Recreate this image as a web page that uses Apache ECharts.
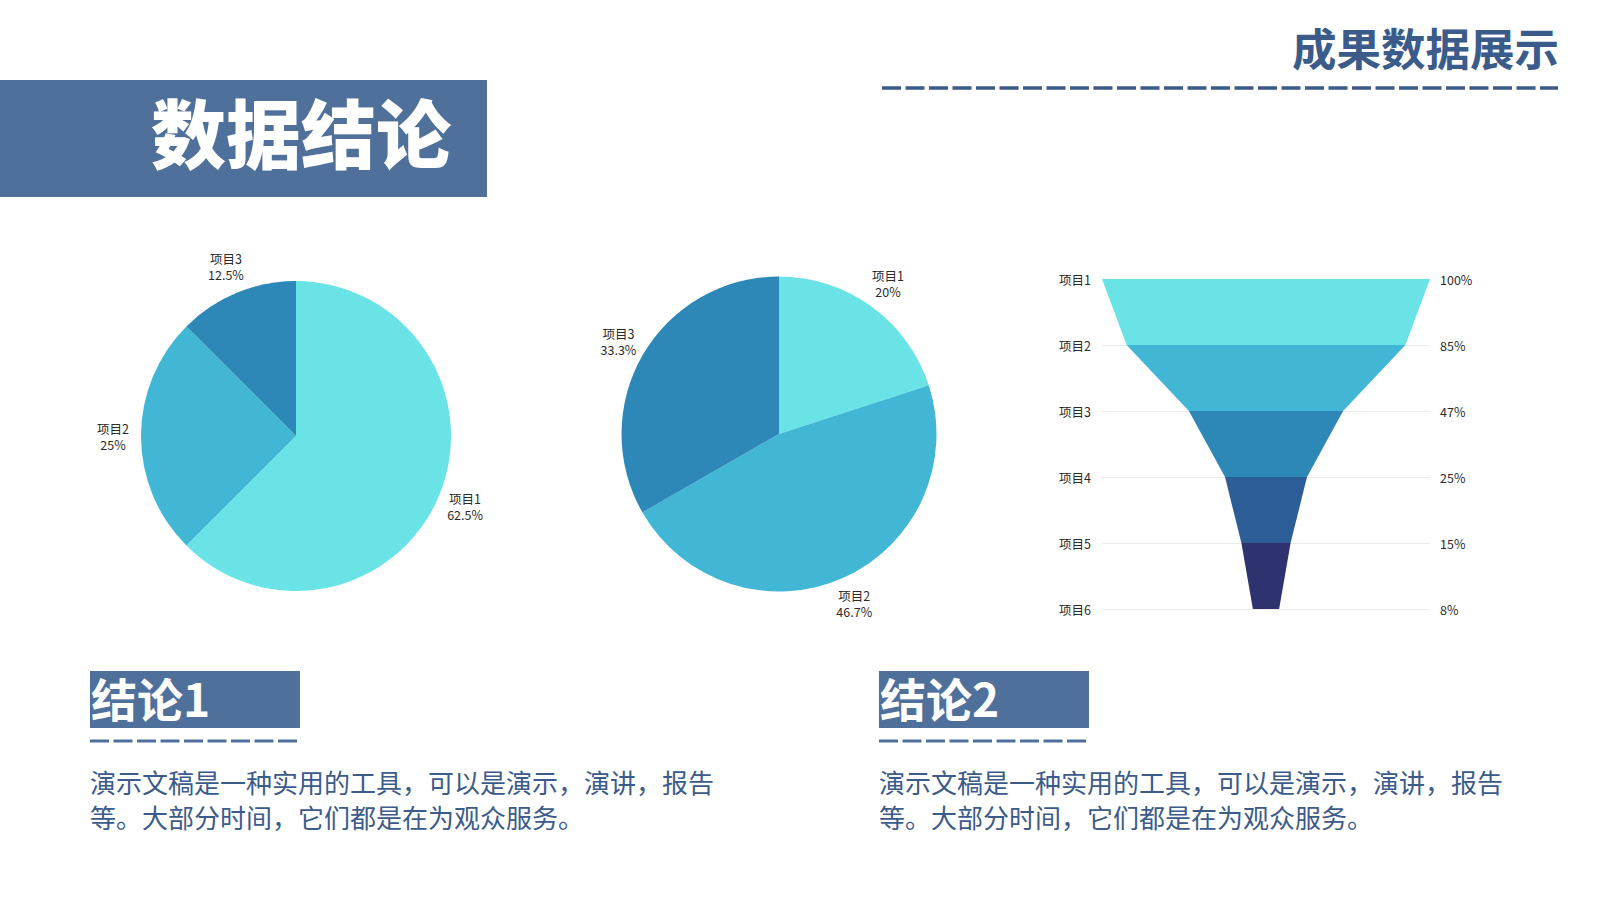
<!DOCTYPE html>
<html>
<head>
<meta charset="utf-8">
<script src="https://cdn.jsdelivr.net/npm/echarts@6/dist/echarts.min.js"></script>
<style>
  html, body { margin: 0; padding: 0; background: #fff; }
  #main { width: 1600px; height: 900px; }
</style>
</head>
<body>
<div id="main"></div>
<script>
// data
var pieNames = ['项目1', '项目2', '项目3'];
var pieValuesA = [62.5, 25, 12.5];
var pieValuesB = [20, 46.7, 33.3];
var funnelNames = ['项目1', '项目2', '项目3', '项目4', '项目5', '项目6'];
var funnelValues = [100, 85, 47, 25, 15, 8];
var noteTitles = ['结论1', '结论2'];
var noteText = '演示文稿是一种实用的工具，可以是演示，演讲，报告\n等。大部分时间，它们都是在为观众服务。';

var pieColors = ['#6ae3e6', '#41b7d5', '#2d88b7'];
var funnelColors = ['#6ae3e6', '#41b7d5', '#2d88b7', '#2d5d96', '#2e3370'];
var blockBlue = '#4f709b';
var textBlue = '#3b5b8a';
var font = '"Noto Sans CJK SC", "Noto Sans", sans-serif';

var chart = echarts.init(document.getElementById('main'), null, { renderer: 'svg' });

// put pie labels centred on the end of the (invisible) label line
function centerLabel(p) {
  var pts = p.labelLinePoints;
  if (!pts) return {};
  return { x: pts[1][0], y: pts[1][1], align: 'center', verticalAlign: 'middle' };
}

function pieSeries(values, center, r) {
  return {
    type: 'pie',
    center: center,
    radius: r,
    startAngle: 90,
    clockwise: true,
    silent: true,
    avoidLabelOverlap: false,
    color: pieColors,
    data: pieNames.map(function (n, i) { return { name: n, value: values[i] }; }),
    label: {
      formatter: '{b}\n{d}%',
      fontSize: 12.5,
      lineHeight: 16,
      color: '#2b2b2b',
      fontFamily: font
    },
    labelLine: { show: true, length: 28, length2: 0, lineStyle: { opacity: 0 } },
    labelLayout: centerLabel
  };
}

var bands = [];
for (var i = 0; i < funnelValues.length - 1; i++) {
  bands.push({ value: [funnelValues[i], funnelValues[i + 1], i], itemStyle: { color: funnelColors[i] } });
}

var axisBase = {
  type: 'category',
  data: funnelNames,
  inverse: true,
  boundaryGap: false,
  axisLine: { show: false },
  axisTick: { show: false }
};

var graphics = [
  { type: 'rect', shape: { x: 0, y: 80, width: 487, height: 117 }, style: { fill: blockBlue } },
  { type: 'text', x: 151, y: 130,
    style: { text: '数据结论', fontSize: 75, fontWeight: 900, fontFamily: font, fill: '#fff', verticalAlign: 'middle' } },
  { type: 'text', x: 1559, y: 46,
    style: { text: '成果数据展示', fontSize: 44.5, fontWeight: 'bold', fontFamily: font, fill: textBlue, align: 'right', verticalAlign: 'middle' } },
  { type: 'line', shape: { x1: 882, y1: 88, x2: 1558, y2: 88 },
    style: { stroke: textBlue, lineWidth: 3.3, lineDash: [19, 4.5] } }
];

[90, 879].forEach(function (x, k) {
  graphics.push(
    { type: 'rect', shape: { x: x, y: 671, width: 210, height: 57 }, style: { fill: blockBlue } },
    { type: 'text', x: x + 1, y: 697,
      style: { text: noteTitles[k], fontSize: 46, fontWeight: 'bold', fontFamily: font, fill: '#fff', verticalAlign: 'middle' } },
    { type: 'line', shape: { x1: x, y1: 741, x2: x + 210, y2: 741 },
      style: { stroke: blockBlue, lineWidth: 3, lineDash: [19, 4.5] } },
    { type: 'text', x: x, y: 764,
      style: { text: noteText, fontSize: 26, lineHeight: 35, fontFamily: font, fill: textBlue, verticalAlign: 'top' } }
  );
});

var option = {
  animation: false,
  backgroundColor: '#fff',
  textStyle: { fontFamily: font },
  grid: { left: 1102, top: 279, width: 328, height: 330 },
  xAxis: { type: 'value', min: -50, max: 50, show: false },
  yAxis: [
    Object.assign({}, axisBase, {
      position: 'left',
      axisLabel: { margin: 11, fontSize: 12.5, color: '#2b2b2b' },
      splitLine: { show: true, lineStyle: { color: '#ececec', width: 1 } }
    }),
    Object.assign({}, axisBase, {
      position: 'right',
      axisLabel: {
        margin: 10, fontSize: 12.5, color: '#2b2b2b',
        formatter: function (v, idx) { return funnelValues[idx] + '%'; }
      },
      splitLine: { show: false }
    })
  ],
  graphic: graphics,
  series: [
    pieSeries(pieValuesA, [296, 436], 155),
    pieSeries(pieValuesB, [779, 434], 157.5),
    {
      type: 'custom',
      silent: true,
      clip: false,
      encode: { x: [0, 1], y: 2 },
      data: bands,
      renderItem: function (params, api) {
        var top = api.value(0), bot = api.value(1), idx = api.value(2);
        return {
          type: 'polygon',
          shape: {
            points: [
              api.coord([-top / 2, idx]),
              api.coord([top / 2, idx]),
              api.coord([bot / 2, idx + 1]),
              api.coord([-bot / 2, idx + 1])
            ]
          },
          style: { fill: api.visual('color') }
        };
      }
    }
  ]
};

chart.setOption(option);
</script>
</body>
</html>
